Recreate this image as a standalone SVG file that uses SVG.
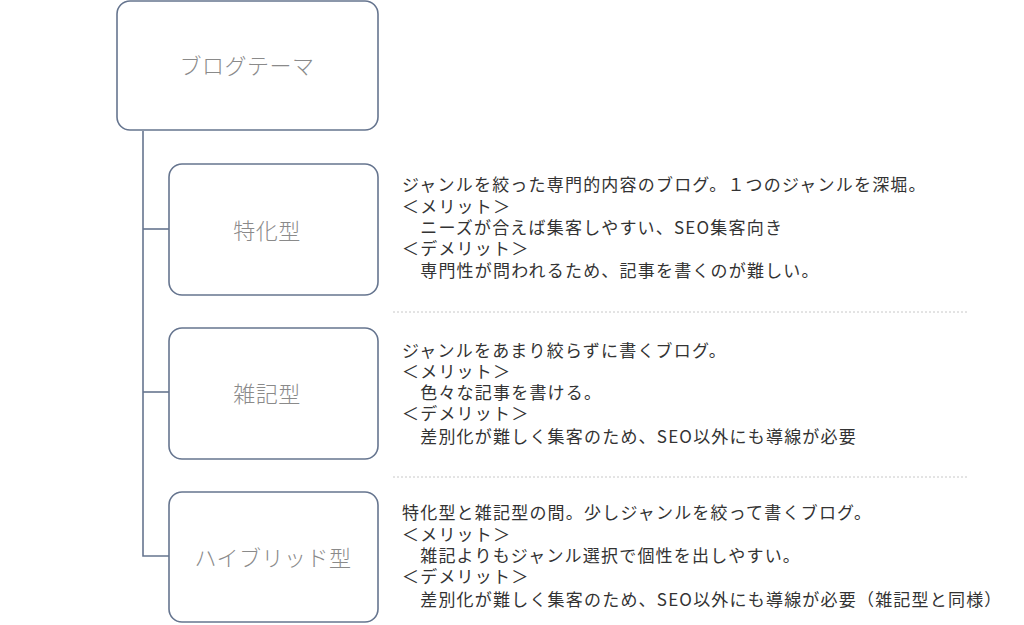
<svg xmlns="http://www.w3.org/2000/svg" width="1024" height="625" viewBox="0 0 1024 625">
<style>
.box{fill:#fff;stroke:#66758f;stroke-width:1.6}
.lbl{font-family:"Noto Sans CJK JP","Noto Sans",sans-serif;font-size:22px;font-weight:300;fill:#8a8a8a;text-anchor:middle;dominant-baseline:central;letter-spacing:0.5px}
.body{font-family:"Noto Sans CJK JP","Noto Sans",sans-serif;font-size:17px;fill:#333;letter-spacing:1.2px}
.conn{fill:none;stroke:#66758f;stroke-width:1.6}
.sep{stroke:#c8c8c8;stroke-width:1;stroke-dasharray:2 2}
</style>
<rect width="1024" height="625" fill="#fff"/>
<g id="connectors">
<path class="conn" d="M143,131 V556 H169"/>
<path class="conn" d="M143,229 H169"/>
<path class="conn" d="M143,392 H169"/>
</g>
<g id="root"><rect class="box" x="117" y="1" width="261" height="129" rx="13"/><text class="lbl" x="247" y="64">ブログテーマ</text></g>
<g id="tokka"><rect class="box" x="169" y="164" width="209" height="131" rx="13"/><text class="lbl" x="267" y="229">特化型</text></g>
<g id="zakki"><rect class="box" x="169" y="328" width="209" height="131" rx="13"/><text class="lbl" x="267" y="392">雑記型</text></g>
<g id="hybrid"><rect class="box" x="169" y="492" width="209" height="130" rx="13"/><text class="lbl" x="273" y="556">ハイブリッド型</text></g>
<g id="separators">
<line class="sep" x1="393" y1="312" x2="968" y2="312"/>
<line class="sep" x1="393" y1="477" x2="968" y2="477"/>
</g>
<g id="desc-tokka" class="body">
<text x="402" y="191">ジャンルを絞った専門的内容のブログ。１つのジャンルを深堀。</text>
<text x="402" y="213">＜メリット＞</text>
<text x="402" y="234">　ニーズが合えば集客しやすい、SEO集客向き</text>
<text x="402" y="255">＜デメリット＞</text>
<text x="402" y="277">　専門性が問われるため、記事を書くのが難しい。</text>
</g>
<g id="desc-zakki" class="body">
<text x="402" y="357">ジャンルをあまり絞らずに書くブログ。</text>
<text x="402" y="378">＜メリット＞</text>
<text x="402" y="399">　色々な記事を書ける。</text>
<text x="402" y="420">＜デメリット＞</text>
<text x="402" y="443">　差別化が難しく集客のため、SEO以外にも導線が必要</text>
</g>
<g id="desc-hybrid" class="body">
<text x="402" y="519">特化型と雑記型の間。少しジャンルを絞って書くブログ。</text>
<text x="402" y="541">＜メリット＞</text>
<text x="402" y="562">　雑記よりもジャンル選択で個性を出しやすい。</text>
<text x="402" y="583">＜デメリット＞</text>
<text x="402" y="606">　差別化が難しく集客のため、SEO以外にも導線が必要（雑記型と同様）</text>
</g>
</svg>
